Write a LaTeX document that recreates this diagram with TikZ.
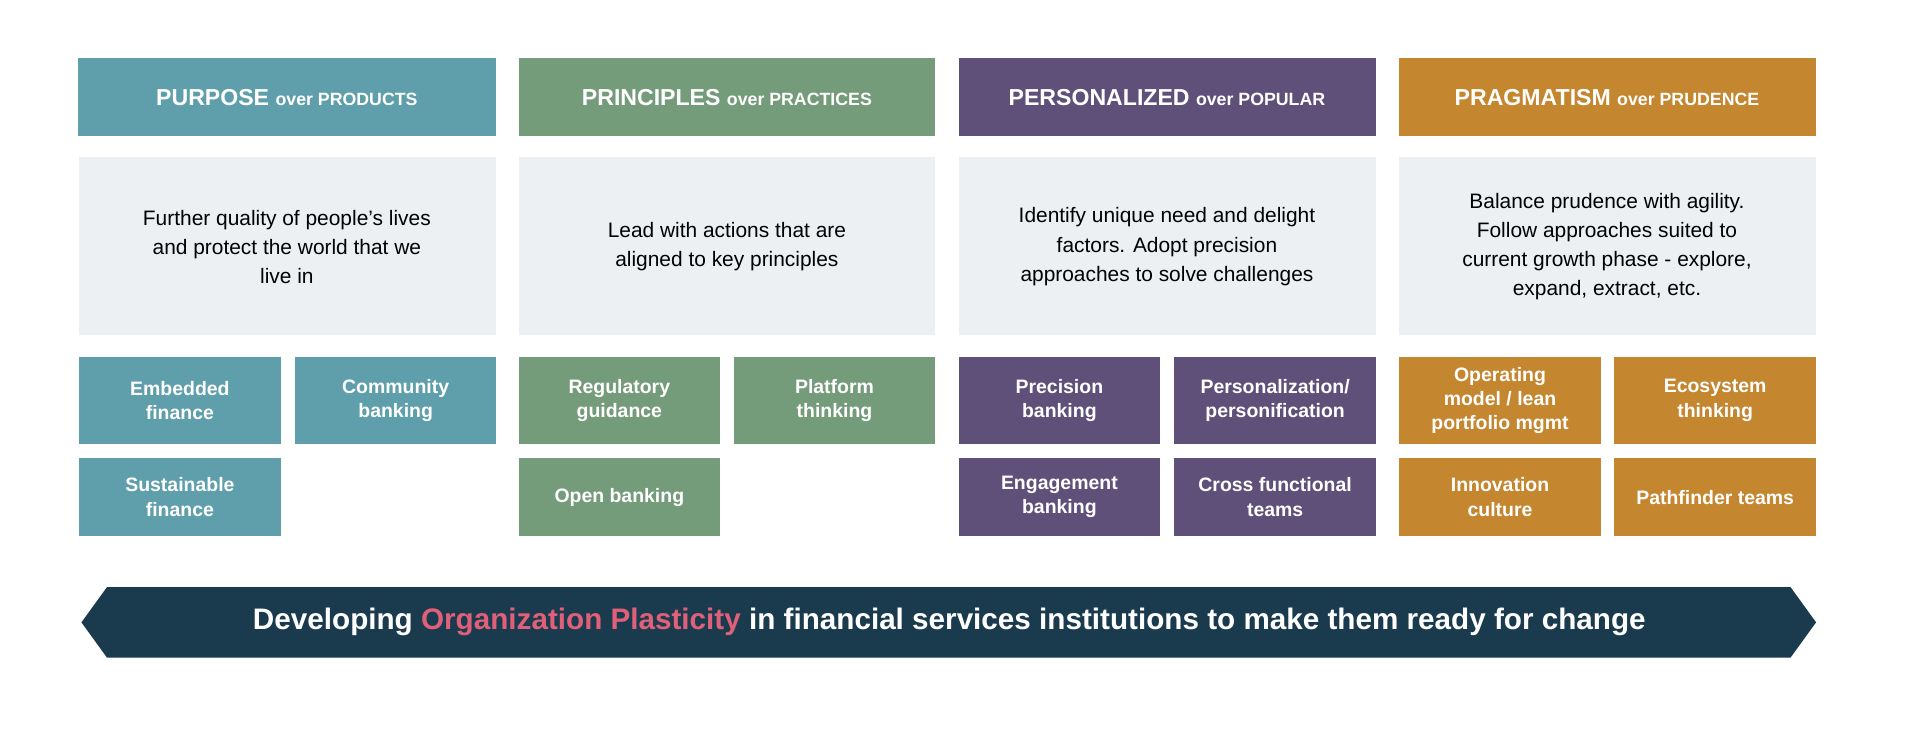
\documentclass[tikz,border=0pt]{standalone}
\usepackage{fontspec}
\setmainfont{Liberation Sans}
\begin{document}
\begin{tikzpicture}[x=0.5pt,y=-0.5pt]
\definecolor{cteal}{HTML}{5E9FAB}
\definecolor{cgreen}{HTML}{759C7A}
\definecolor{cpurple}{HTML}{5F5079}
\definecolor{corange}{HTML}{C4862F}
\definecolor{cdark}{HTML}{1A3A4E}
\definecolor{cpink}{HTML}{E0607A}
\definecolor{cgray}{HTML}{ECF0F3}
\tikzset{
 hdr/.style={text=white,font=\bfseries\fontsize{9.5}{11}\selectfont},
 desc/.style={fill=cgray,text=black!85,align=center,font=\fontsize{8.6}{12}\selectfont},
 sm/.style={text=white,align=center,font=\bfseries\fontsize{8}{10}\selectfont},
}
\fill[white] (0,0) rectangle (1568,619);
\newcommand{\sml}{\fontsize{7.3}{9}\selectfont}
% headers
\fill[cteal] (64,48) rectangle (408,112); \node[hdr] (h1) at (236,80) {PURPOSE {\sml over PRODUCTS}};
\fill[cgreen] (427,48) rectangle (769,112); \node[hdr] (h2) at (598,80) {PRINCIPLES {\sml over PRACTICES}};
\fill[cpurple] (789,48) rectangle (1132,112); \node[hdr] (h3) at (960,80) {PERSONALIZED {\sml over POPULAR}};
\fill[corange] (1151,48) rectangle (1494,112); \node[hdr] (h4) at (1322,80) {PRAGMATISM {\sml over PRUDENCE}};
% descriptions
\fill[cgray] (65,129) rectangle (408,276); \node[align=center,font=\fontsize{8.6}{12}\selectfont] (d1) at (236,203) {Further quality of people’s lives\\and protect the world that we\\live in};
\fill[cgray] (427,129) rectangle (769,276); \node[align=center,font=\fontsize{8.6}{12}\selectfont] (d2) at (598,203) {Lead with actions that are\\aligned to key principles};
\fill[cgray] (789,129) rectangle (1132,276); \node[align=center,font=\fontsize{8.6}{12}\selectfont] (d3) at (960,203) {Identify unique need and delight\\factors. Adopt precision\\approaches to solve challenges};
\fill[cgray] (1151,129) rectangle (1494,276); \node[align=center,font=\fontsize{8.6}{12}\selectfont] (d4) at (1322,203) {Balance prudence with agility.\\Follow approaches suited to\\current growth phase - explore,\\expand, extract, etc.};
% small boxes
\newcommand{\smbox}[7]{\fill[#1] (#2,#3) rectangle (#4,#5); \node[sm] (#7) at ({(#2+#4)/2},{(#3+#5)/2}) {#6};}
\smbox{cteal}{65}{294}{231}{365}{Embedded\\finance}{s11}
\smbox{cteal}{243}{294}{408}{365}{Community\\banking}{s12}
\smbox{cteal}{65}{377}{231}{441}{Sustainable\\finance}{s13}
\smbox{cgreen}{427}{294}{592}{365}{Regulatory\\guidance}{s21}
\smbox{cgreen}{604}{294}{769}{365}{Platform\\thinking}{s22}
\smbox{cgreen}{427}{377}{592}{441}{Open banking}{s23}
\smbox{cpurple}{789}{294}{954}{365}{Precision\\banking}{s31}
\smbox{cpurple}{966}{294}{1132}{365}{Personalization/\\personification}{s32}
\smbox{cpurple}{789}{377}{954}{441}{Engagement\\banking}{s33}
\smbox{cpurple}{966}{377}{1132}{441}{Cross functional\\teams}{s34}
\smbox{corange}{1151}{294}{1317}{365}{Operating\\model / lean\\portfolio mgmt}{s41}
\smbox{corange}{1328}{294}{1494}{365}{Ecosystem\\thinking}{s42}
\smbox{corange}{1151}{377}{1317}{441}{Innovation\\culture}{s43}
\smbox{corange}{1328}{377}{1494}{441}{Pathfinder teams}{s44}
% banner
\fill[cdark] (67,512) -- (88,483) -- (1473,483) -- (1494,512) -- (1473,541) -- (88,541) -- cycle;
\node[text=white,font=\bfseries\fontsize{12.2}{14}\selectfont] (ban) at (781,512) {Developing \textcolor{cpink}{Organization Plasticity} in financial services institutions to make them ready for change};
\end{tikzpicture}
\end{document}
